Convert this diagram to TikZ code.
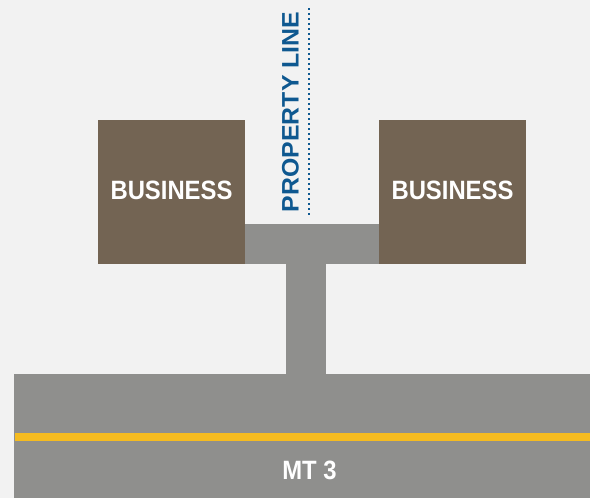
\documentclass[tikz,border=0pt]{standalone}
\usepackage{fontspec}
\setmainfont{Liberation Sans}
\definecolor{bg}{HTML}{F2F2F2}
\definecolor{roadgray}{HTML}{8F8F8D}
\definecolor{lanegold}{HTML}{F5BB20}
\definecolor{bizbrown}{HTML}{736453}
\definecolor{lineblue}{HTML}{0E5890}
\tikzset{
  bizbox/.style={fill=bizbrown, draw=none},
  paved/.style={fill=roadgray, draw=none},
  bigtext/.style={font=\bfseries\fontsize{26.5}{28}\selectfont, inner sep=0pt, xscale=0.9},
}
\begin{document}
\begin{tikzpicture}[x=1pt,y=-1pt]
\fill[bg] (0,0) rectangle (590,498);
\useasboundingbox (0,0) rectangle (590,498);
% road
\path[paved] (14,374) rectangle (590,498);
\fill[lanegold] (15,433) rectangle (590,441);
% driveway
\path[paved] (245,224) rectangle (379,264);
\path[paved] (286,263) rectangle (326,375);
% businesses
\path[bizbox] (98,120) rectangle (245,264);
\path[bizbox] (379,120) rectangle (526,264);
\node[bigtext, text=white] (bizL) at (171.5,190) {BUSINESS};
\node[bigtext, text=white] (bizR) at (452.5,190) {BUSINESS};
\node[bigtext, text=white] (mt) at (309.5,470) {MT 3};
% property line
\coordinate (plTop) at (309,8);
\coordinate (plBot) at (309,216);
\draw[lineblue, line width=2pt, dash pattern=on 2pt off 3pt] (plTop) -- (plBot);
\node[bigtext, text=lineblue, rotate=90] (pl) at (290.5,112) {\scalebox{0.937}[1]{PROPERTY LINE}};
\end{tikzpicture}
\end{document}
